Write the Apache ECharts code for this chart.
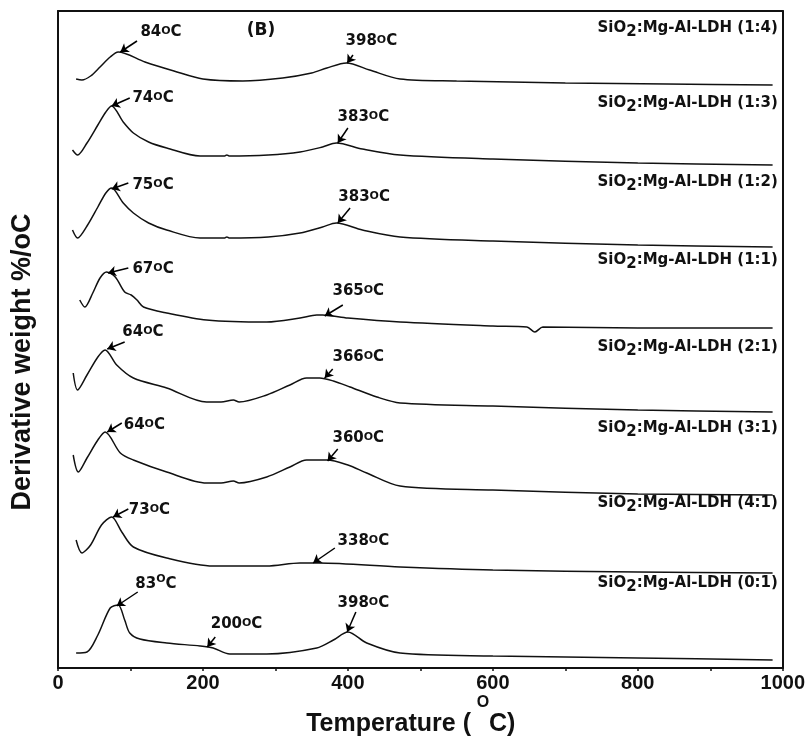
<!DOCTYPE html>
<html>
<head>
<meta charset="utf-8">
<script src="https://cdn.jsdelivr.net/npm/echarts@6/dist/echarts.min.js"></script>
<style>
  html, body { margin: 0; padding: 0; background: #fff; }
  #chart { width: 808px; height: 736px; }
</style>
</head>
<body>
<div id="chart"></div>
<script>
// temperature ticks
var xTicks = [0, 200, 400, 600, 800, 1000];

// sample names, top to bottom
var ratios = ['1:4', '1:3', '1:2', '1:1', '2:1', '3:1', '4:1', '0:1'];

// DTG curves [temperature, stacked value] (arbitrary units, offset per sample)
var s14 = [[25,589],[33,588],[45,592],[58,601],[72,611],[83,616],[120,606],[160,597],[200,589],[255,587],[310,590],[350,595],[371,600],[398,605],[430,598],[472,589],[550,587],[700,585],[840,584],[986,583]];
var s13 = [[20,518],[27,513],[40,525],[55,543],[66,556],[74,562],[90,546],[104,535],[125,526],[150,520],[196,512],[230,512],[233,513],[236,512],[290,513],[334,516],[365,521],[384,525],[420,519],[472,513],[600,509],[800,505],[986,503]];
var s12 = [[20,438],[27,430],[40,442],[55,461],[66,475],[74,480],[90,465],[104,455],[125,445],[150,438],[196,430],[230,430],[233,431],[236,430],[290,431],[334,435],[365,441],[384,445],[420,438],[472,431],[600,427],[800,423],[986,421]];
var s11 = [[30,368],[37,361],[48,375],[58,390],[67,396],[79,391],[92,376],[101,373],[109,368],[118,361],[150,355],[205,348],[288,346],[334,350],[357,353],[365,353],[400,350],[472,346],[600,342],[647,341],[658,336],[669,341],[800,340],[986,340]];
var s21 = [[21,295],[27,278],[40,293],[55,311],[65,318],[81,303],[104,290],[150,280],[205,266],[225,266],[242,268],[250,266],[288,273],[320,283],[343,290],[361,290],[380,287],[403,281],[440,271],[472,265],[600,262],[800,258],[986,256]];
var s31 = [[21,213],[28,196],[40,210],[55,228],[65,236],[86,215],[104,208],[150,196],[205,185],[225,185],[242,187],[250,185],[288,191],[320,201],[343,208],[371,208],[400,203],[426,195],[472,182],[600,178],[800,174],[986,173]];
var s41 = [[25,128],[33,115],[45,123],[60,143],[74,151],[88,136],[104,121],[150,110],[214,102],[288,102],[334,105],[360,105],[472,101],[600,98],[800,96],[986,95]];
var s01 = [[25,15],[40,16],[55,33],[72,60],[83,63],[92,48],[99,35],[113,29],[150,25],[196,22],[214,20],[237,14],[288,14],[357,20],[380,28],[400,36],[426,25],[472,15],[600,12],[800,10],[986,8]];

var curves = [s14, s13, s12, s11, s21, s31, s41, s01];

// sample label anchor value (right end of each trace)
var nameLevels = [640, 565, 486, 408, 321, 240, 165, 85];

// peak annotations: [label, arrow tail T, tail V, arrow head T, head V, text T, text V]
var peaks = [
  [['84',109,627,86,616,113,636], ['398',407,613,399,605,396,627]],
  [['74',99,570,74,562,102,570], ['383',400,540,386,525,385,551]],
  [['75',97,485,74,479,102,483], ['383',403,460,386,445,386,471]],
  [['67',97,400,69,395,102,399], ['365',393,363,368,352,378,377]],
  [['64',92,326,68,319,88,336], ['366',379,299,368,290,378,311]],
  [['64',88,245,68,236,90,243], ['360',386,219,372,207,378,230]],
  [['73',97,159,76,151,97,158], ['338',382,120,352,105,385,127]],
  [['83',110,76,81,62,106,84], ['200',217,31,206,21,210,44], ['398',411,56,399,36,385,65]]
];

var FONT = 'DejaVu Sans';
var AXFONT = 'Liberation Sans';

var chart = echarts.init(document.getElementById('chart'));

var series = curves.map(function (c, i) {
  var pk = peaks[i];
  var pointData = pk.map(function (p) {
    var up = (p[0] === '83');
    return {
      coord: [p[5], p[6]],
      label: {
        show: true, position: 'right', distance: 0,
        formatter: p[0] + '{o|O}C',
        fontFamily: FONT, fontWeight: 'bold', fontSize: 15, color: '#111',
        rich: {
          o: { fontFamily: FONT, fontWeight: 'bold', fontSize: 11, color: '#111',
               padding: up ? [0, 0, 10, 0] : [0, 0, 2, 0] }
        }
      }
    };
  });
  pointData.push({
    coord: [994, nameLevels[i]],
    label: {
      show: true, position: 'left', distance: 0,
      formatter: 'SiO{s|2}:Mg-Al-LDH (' + ratios[i] + ')',
      fontFamily: FONT, fontWeight: 'bold', fontSize: 15, color: '#111',
      rich: {
        s: { fontFamily: FONT, fontWeight: 'bold', fontSize: 15, color: '#111', padding: [8, 0, 0, 0] }
      }
    }
  });
  return {
    name: 'SiO2:Mg-Al-LDH (' + ratios[i] + ')',
    type: 'line',
    data: c,
    showSymbol: false,
    smooth: 0.3,
    lineStyle: { color: '#111', width: 1.5 },
    markLine: {
      silent: true,
      symbol: ['none', 'arrow'],
      symbolSize: 8,
      label: { show: false },
      lineStyle: { color: '#000', width: 1.5, type: 'solid' },
      data: pk.map(function (p) {
        return [{ coord: [p[1], p[2]] }, { coord: [p[3], p[4]] }];
      })
    },
    markPoint: {
      silent: true,
      symbol: 'circle',
      symbolSize: 1,
      itemStyle: { color: 'rgba(0,0,0,0)' },
      data: pointData
    }
  };
});

// panel tag
series.push({
  type: 'line',
  data: [],
  markPoint: {
    silent: true, symbol: 'circle', symbolSize: 1,
    itemStyle: { color: 'rgba(0,0,0,0)' },
    data: [{
      coord: [280, 637],
      label: { show: true, position: 'inside', formatter: '(B)',
               fontFamily: FONT, fontWeight: 'bold', fontSize: 17, color: '#111' }
    }]
  }
});

var frameAxis = {
  type: 'value',
  axisLine: { show: true, onZero: false, lineStyle: { color: '#111', width: 2 } },
  axisTick: { show: false }, axisLabel: { show: false }, splitLine: { show: false }
};

var option = {
  animation: false,
  backgroundColor: '#fff',
  grid: { left: 58, right: 25, top: 11, bottom: 68 },
  xAxis: [
    {
      type: 'value',
      min: xTicks[0],
      max: xTicks[xTicks.length - 1],
      interval: 200,
      axisLine: { onZero: false, lineStyle: { color: '#111', width: 2 } },
      axisTick: { show: true, length: 3, lineStyle: { color: '#111', width: 1.5 } },
      minorTick: { show: true, splitNumber: 2, length: 3, lineStyle: { color: '#111', width: 1.5 } },
      splitLine: { show: false },
      axisLabel: { fontFamily: AXFONT, fontWeight: 'bold', fontSize: 20, color: '#111', margin: 5,
                   formatter: function (v) { return String(v); } }
    },
    Object.assign({ position: 'top', min: 0, max: 1000 }, frameAxis)
  ],
  yAxis: [
    Object.assign({ position: 'left', min: 0, max: 657 }, frameAxis),
    Object.assign({ position: 'right', min: 0, max: 657 }, frameAxis)
  ],
  graphic: [
    {
      type: 'text', x: 23, y: 362, rotation: Math.PI / 2,
      style: { text: 'Derivative weight %/oC', font: 'bold 27px "Liberation Sans"',
               fill: '#111', textAlign: 'center', textVerticalAlign: 'middle' }
    },
    {
      type: 'text', x: 471, y: 724,
      style: { text: 'Temperature (', font: 'bold 25px "Liberation Sans"',
               fill: '#111', textAlign: 'right', textVerticalAlign: 'middle' }
    },
    {
      type: 'text', x: 483, y: 703,
      style: { text: 'O', font: 'bold 16px "Liberation Sans"',
               fill: '#111', textAlign: 'center', textVerticalAlign: 'middle' }
    },
    {
      type: 'text', x: 489, y: 724,
      style: { text: 'C)', font: 'bold 25px "Liberation Sans"',
               fill: '#111', textAlign: 'left', textVerticalAlign: 'middle' }
    }
  ],
  series: series
};

chart.setOption(option);
</script>
</body>
</html>
